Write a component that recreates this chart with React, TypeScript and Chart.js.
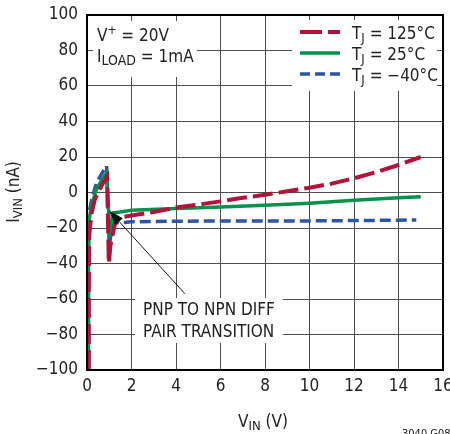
import React, { useEffect, useRef } from "react";
import { Chart, registerables } from "chart.js";

Chart.register(...registerables);

const FAM = '"Liberation Sans Narrow", "DejaVu Sans Condensed", "Liberation Sans", sans-serif';

// Data (V_IN in volts, I_VIN in nA)
const vin125 = [0.08, 0.08, 0.09, 0.2, 0.35, 0.58, 0.75, 0.9, 0.98, 1.05, 1.3, 1.5, 2, 3, 4, 5, 6, 7, 8, 9, 10, 11, 12, 13, 14, 15];
const iin125 = [-100, -60, -25, -12, -4, 2, 6, 9, -40, -30, -15, -14, -13, -11, -8.5, -6.8, -5, -3, -1.3, 0.7, 2.7, 5, 8, 11.5, 15.5, 20];

const vin25 = [0.07, 0.07, 0.1, 0.21, 0.43, 0.66, 0.88, 0.97, 1.02, 1.1, 1.2, 1.5, 2, 4, 6, 8, 10, 12, 14, 15];
const iin25 = [-100, -40, -15, -7, 2, 7, 11, -10, -25, -18, -11.5, -11, -10, -9, -8.2, -7.2, -6, -4.3, -3, -2.4];

const vinM40 = [0.05, 0.05, 0.07, 0.21, 0.43, 0.73, 0.88, 0.95, 1.0, 1.1, 1.3, 1.5, 2, 4, 6, 8, 10, 12, 14, 14.8];
const iinM40 = [-100, -30, -13, -4, 5.6, 12, 15, -10, -30, -22, -17, -17, -16.5, -16.2, -16, -16, -16, -15.8, -15.6, -15.5];

const xTicks = [0, 2, 4, 6, 8, 10, 12, 14, 16];
const yTicks = [100, 80, 60, 40, 20, 0, -20, -40, -60, -80, -100];
const yTickLabels = ["100", "80", "60", "40", "20", "0", "\u221220", "\u221240", "\u221260", "\u221280", "\u2212100"];

const seriesNames = ["125\u00B0C", "25\u00B0C", "\u221240\u00B0C"];
const seriesColors = ["#b3123b", "#06924b", "#2b55a7"];

// annotation arrow in data coordinates: tip, tail
const arrowTip = { x: 0.99, y: -10.1 };
const arrowTail = { x: 4.4, y: -57 };

type Seg = { t: string; size: number; dy: number };

function richWidth(ctx: CanvasRenderingContext2D, segs: Seg[]) {
  let w = 0;
  for (const s of segs) {
    ctx.font = `${s.size}px ${FAM}`;
    w += ctx.measureText(s.t).width;
  }
  return w;
}

function drawRich(ctx: CanvasRenderingContext2D, x: number, y: number, segs: Seg[]) {
  let cx = x;
  ctx.textAlign = "left";
  ctx.textBaseline = "alphabetic";
  for (const s of segs) {
    ctx.font = `${s.size}px ${FAM}`;
    ctx.fillText(s.t, cx, y + s.dy);
    cx += ctx.measureText(s.t).width;
  }
}

const decorPlugin = {
  id: "decor",
  afterDraw(chart: any) {
    const ctx: CanvasRenderingContext2D = chart.ctx;
    const a = chart.chartArea;
    const xs = chart.scales.x;
    const ys = chart.scales.y;
    ctx.save();
    // white boxes
    ctx.fillStyle = "#fff";
    ctx.fillRect(93, 21, 104, 56);
    ctx.fillRect(292, 20, 145, 71);
    ctx.fillRect(135, 298, 148, 45);

    // frame
    ctx.strokeStyle = "#000";
    ctx.lineWidth = 2;
    ctx.strokeRect(a.left, a.top, a.right - a.left, a.bottom - a.top);

    ctx.fillStyle = "#222";
    // conditions
    drawRich(ctx, 97, 41, [
      { t: "V", size: 17, dy: 0 },
      { t: "+", size: 12, dy: -7 },
      { t: " = 20V", size: 17, dy: 0 },
    ]);
    drawRich(ctx, 97, 62, [
      { t: "I", size: 17, dy: 0 },
      { t: "LOAD", size: 14, dy: 3 },
      { t: " = 1mA", size: 17, dy: 0 },
    ]);

    // legend
    const ly = [32, 53, 74];
    const dashes = [[22, 6], [], [10, 5]];
    for (let i = 0; i < 3; i++) {
      ctx.strokeStyle = seriesColors[i];
      ctx.lineWidth = i === 0 ? 4 : 3.5;
      ctx.setLineDash(dashes[i]);
      ctx.beginPath();
      ctx.moveTo(300, ly[i]);
      ctx.lineTo(340, ly[i]);
      ctx.stroke();
      ctx.setLineDash([]);
      ctx.fillStyle = "#222";
      drawRich(ctx, 352, ly[i] + 7, [
        { t: "T", size: 17, dy: 0 },
        { t: "J", size: 13, dy: 3 },
        { t: " = " + seriesNames[i], size: 17, dy: 0 },
      ]);
    }

    // annotation
    ctx.fillStyle = "#222";
    drawRich(ctx, 143, 315, [{ t: "PNP TO NPN DIFF", size: 17, dy: 0 }]);
    drawRich(ctx, 143, 337, [{ t: "PAIR TRANSITION", size: 17, dy: 0 }]);

    const tx = xs.getPixelForValue(arrowTip.x);
    const ty = ys.getPixelForValue(arrowTip.y);
    const sx = xs.getPixelForValue(arrowTail.x);
    const sy = ys.getPixelForValue(arrowTail.y);
    const ang = Math.atan2(ty - sy, tx - sx);
    const L = 15, W = 5;
    const bx = tx - L * Math.cos(ang);
    const by = ty - L * Math.sin(ang);
    ctx.strokeStyle = "#111";
    ctx.lineWidth = 1;
    ctx.beginPath();
    ctx.moveTo(sx, sy);
    ctx.lineTo(bx, by);
    ctx.stroke();
    ctx.fillStyle = "#111";
    ctx.beginPath();
    ctx.moveTo(tx, ty);
    ctx.lineTo(bx + W * Math.sin(ang), by - W * Math.cos(ang));
    ctx.lineTo(bx - W * Math.sin(ang), by + W * Math.cos(ang));
    ctx.closePath();
    ctx.fill();

    // axis titles
    ctx.fillStyle = "#222";
    const xt: Seg[] = [
      { t: "V", size: 17, dy: 0 },
      { t: "IN", size: 13, dy: 3 },
      { t: " (V)", size: 17, dy: 0 },
    ];
    drawRich(ctx, 263 - richWidth(ctx, xt) / 2, 427, xt);

    const yt: Seg[] = [
      { t: "I", size: 17, dy: 0 },
      { t: "VIN", size: 13, dy: 3 },
      { t: " (nA)", size: 17, dy: 0 },
    ];
    ctx.save();
    ctx.translate(19, 192);
    ctx.rotate(-Math.PI / 2);
    drawRich(ctx, -richWidth(ctx, yt) / 2, 0, yt);
    ctx.restore();

    // figure id
    drawRich(ctx, 402, 437, [{ t: "3040 G08", size: 11, dy: 0 }]);
    ctx.restore();
  },
};

function toPts(xv: number[], yv: number[]) {
  return xv.map((x, i) => ({ x, y: yv[i] }));
}

export default function App() {
  const ref = useRef<HTMLCanvasElement | null>(null);
  useEffect(() => {
    if (!ref.current) return;
    const chart = new Chart(ref.current, {
      type: "line",
      data: {
        datasets: [
          {
            label: seriesNames[0],
            data: toPts(vin125, iin125),
            borderColor: seriesColors[0],
            borderWidth: 4,
            borderDash: [20, 6],
            pointRadius: 0,
            tension: 0,
            order: 0,
          },
          {
            label: seriesNames[1],
            data: toPts(vin25, iin25),
            borderColor: seriesColors[1],
            borderWidth: 3.5,
            pointRadius: 0,
            tension: 0,
            order: 1,
          },
          {
            label: seriesNames[2],
            data: toPts(vinM40, iinM40),
            borderColor: seriesColors[2],
            borderWidth: 3.5,
            borderDash: [11, 5],
            pointRadius: 0,
            tension: 0,
            order: 2,
          },
        ],
      },
      options: {
        responsive: false,
        animation: false,
        events: [],
        layout: { padding: { top: 15, right: 7, left: 0, bottom: 0 } },
        plugins: { legend: { display: false }, tooltip: { enabled: false } },
        scales: {
          x: {
            type: "linear",
            min: 0,
            max: 16,
            afterBuildTicks: (s: any) => {
              s.ticks = xTicks.map((v) => ({ value: v }));
            },
            afterFit: (s: any) => {
              s.height = 64;
              s.paddingLeft = 0;
              s.paddingRight = 0;
            },
            ticks: {
              color: "#222",
              font: { family: FAM, size: 17 },
              padding: 6,
              maxRotation: 0,
              autoSkip: false,
            },
            grid: { color: "#4d4d4d", lineWidth: 1, drawTicks: false },
            border: { display: true, color: "#000", width: 2 },
          },
          y: {
            type: "linear",
            min: -100,
            max: 100,
            afterBuildTicks: (s: any) => {
              s.ticks = yTicks.map((v) => ({ value: v }));
            },
            afterFit: (s: any) => {
              s.width = 87;
              s.paddingTop = 0;
              s.paddingBottom = 0;
            },
            ticks: {
              color: "#222",
              font: { family: FAM, size: 17 },
              padding: 9,
              autoSkip: false,
              callback: (v: any) => {
                const i = yTicks.indexOf(Number(v));
                return i >= 0 ? yTickLabels[i] : "";
              },
            },
            grid: { color: "#4d4d4d", lineWidth: 1, drawTicks: false },
            border: { display: true, color: "#000", width: 2 },
          },
        },
      },
      plugins: [decorPlugin],
    } as any);
    return () => chart.destroy();
  }, []);
  return (
    <div style={{ position: "absolute", left: 0, top: 0, width: 450, height: 434, background: "#fff" }}>
      <canvas ref={ref} width={450} height={434} style={{ width: 450, height: 434, display: "block" }} />
    </div>
  );
}
